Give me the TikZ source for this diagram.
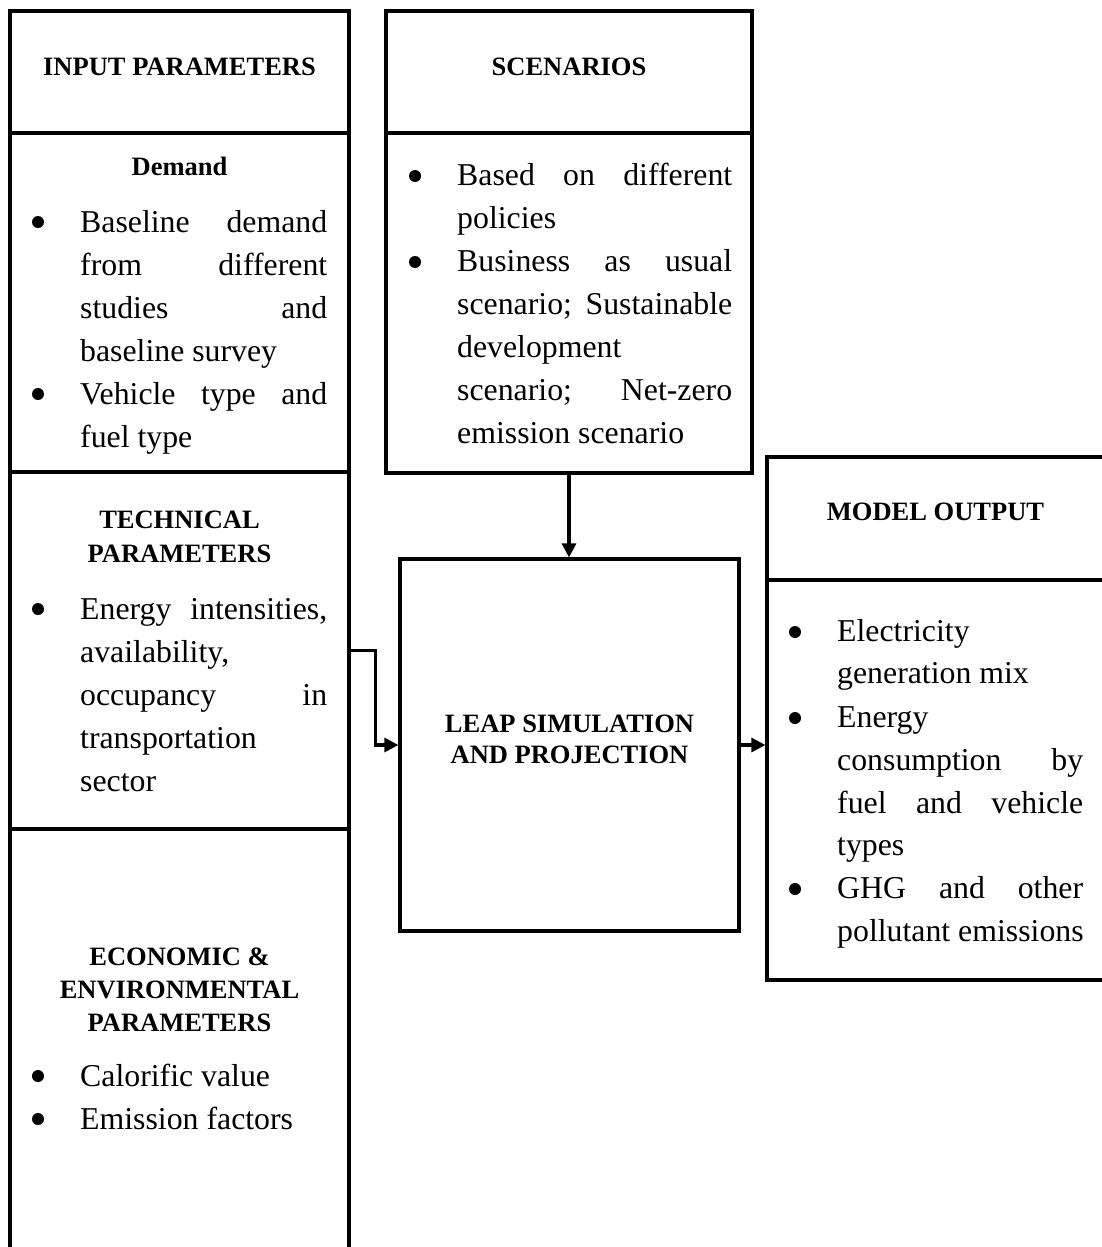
\documentclass[tikz,border=0pt]{standalone}
\usepackage{fontspec}
\setmainfont{Liberation Serif}
\usetikzlibrary{arrows.meta}
\newcommand\jl[2]{\makebox[#1][s]{#2}}
\tikzset{
  box/.style={draw, line width=3.2pt, inner sep=0pt, rectangle},
  head/.style={font=\bfseries\fontsize{26.5}{32}\selectfont, inner sep=0pt, anchor=base},
  body/.style={font=\fontsize{31.8}{43}\selectfont, inner sep=0pt, anchor=base west},
  arr/.style={line width=3.2pt, -{Triangle[length=14pt,width=14pt]}},
  bul/.style={fill=black}
}
\begin{document}
\begin{tikzpicture}[x=1pt,y=-1pt]
\useasboundingbox (0,0) rectangle (1102,1247);
\clip (0,0) rectangle (1102,1247);
% boxes
\node[box, minimum width=339, minimum height=122] (inhead) at (179.5,72) {};
\node[box, minimum width=339, minimum height=339] (demand) at (179.5,302.5) {};
\node[box, minimum width=339, minimum height=357] (tech) at (179.5,650.5) {};
\node[box, minimum width=339, minimum height=451] (econ) at (179.5,1054.5) {};
\node[box, minimum width=366, minimum height=122] (scenhead) at (569,72) {};
\node[box, minimum width=366, minimum height=340] (scenbody) at (569,303) {};
\node[box, minimum width=339, minimum height=372] (leap) at (569.5,745) {};
\node[box, minimum width=337, minimum height=123] (outhead) at (935.5,518.5) {};
\node[box, minimum width=337, minimum height=400] (outbody) at (935.5,780) {};
% connectors
\draw[arr] (tech.east) -- ++(25,0) |- (leap.west);
\draw[arr] (scenbody.south) -- (scenbody.south |- leap.north);
\draw[arr] (leap.east) -- (leap.east -| outbody.west);
% headings
\node[head] (tInput) at (179.5,75) {INPUT PARAMETERS};
\node[head] (tScen) at (569,75) {SCENARIOS};
\node[head] (tDemand) at (179.5,175) {Demand};
\node[head] (tTech1) at (179.5,528) {TECHNICAL};
\node[head] (tTech2) at (179.5,562) {PARAMETERS};
\node[head] (tEcon1) at (179.5,965) {ECONOMIC \&};
\node[head] (tEcon2) at (179.5,998) {ENVIRONMENTAL};
\node[head] (tEcon3) at (179.5,1031) {PARAMETERS};
\node[head] (tLeap1) at (569.5,732) {LEAP SIMULATION};
\node[head] (tLeap2) at (569.5,763) {AND PROJECTION};
\node[head] (tOut) at (935.5,520) {MODEL OUTPUT};
% demand bullets
\fill[bul] (38,222) circle (6);
\fill[bul] (38,394) circle (6);
\node[body] (d1) at (80,232) {\jl{247pt}{Baseline demand}};
\node[body] (d2) at (80,275) {\jl{247pt}{from different}};
\node[body] (d3) at (80,318) {\jl{247pt}{studies and}};
\node[body] (d4) at (80,361) {baseline survey};
\node[body] (d5) at (80,404) {\jl{247pt}{Vehicle type and}};
\node[body] (d6) at (80,447) {fuel type};
% technical bullets
\fill[bul] (38,609) circle (6);
\node[body] (e1) at (80,619) {\jl{247pt}{Energy intensities,}};
\node[body] (e2) at (80,662) {availability,};
\node[body] (e3) at (80,705) {\jl{247pt}{occupancy in}};
\node[body] (e4) at (80,748) {transportation};
\node[body] (e5) at (80,791) {sector};
% economic bullets
\fill[bul] (38,1076) circle (6);
\fill[bul] (38,1119) circle (6);
\node[body] (f1) at (80,1086) {Calorific value};
\node[body] (f2) at (80,1129) {Emission factors};
% scenario bullets
\fill[bul] (415,176) circle (6);
\fill[bul] (415,262) circle (6);
\node[body] (s1) at (457,185) {\jl{275pt}{Based on different}};
\node[body] (s2) at (457,228) {policies};
\node[body] (s3) at (457,271) {\jl{275pt}{Business as usual}};
\node[body] (s4) at (457,314) {\jl{275pt}{scenario; Sustainable}};
\node[body] (s5) at (457,357) {development};
\node[body] (s6) at (457,400) {\jl{275pt}{scenario; Net-zero}};
\node[body] (s7) at (457,443) {emission scenario};
% output bullets
\fill[bul] (795,632) circle (6);
\fill[bul] (795,718) circle (6);
\fill[bul] (795,889) circle (6);
\node[body] (o1) at (837,641) {Electricity};
\node[body] (o2) at (837,683) {generation mix};
\node[body] (o3) at (837,727) {Energy};
\node[body] (o4) at (837,770) {\jl{246pt}{consumption by}};
\node[body] (o5) at (837,813) {\jl{246pt}{fuel and vehicle}};
\node[body] (o6) at (837,855) {types};
\node[body] (o7) at (837,898) {\jl{246pt}{GHG and other}};
\node[body] (o8) at (837,941) {pollutant emissions};
\end{tikzpicture}
\end{document}
